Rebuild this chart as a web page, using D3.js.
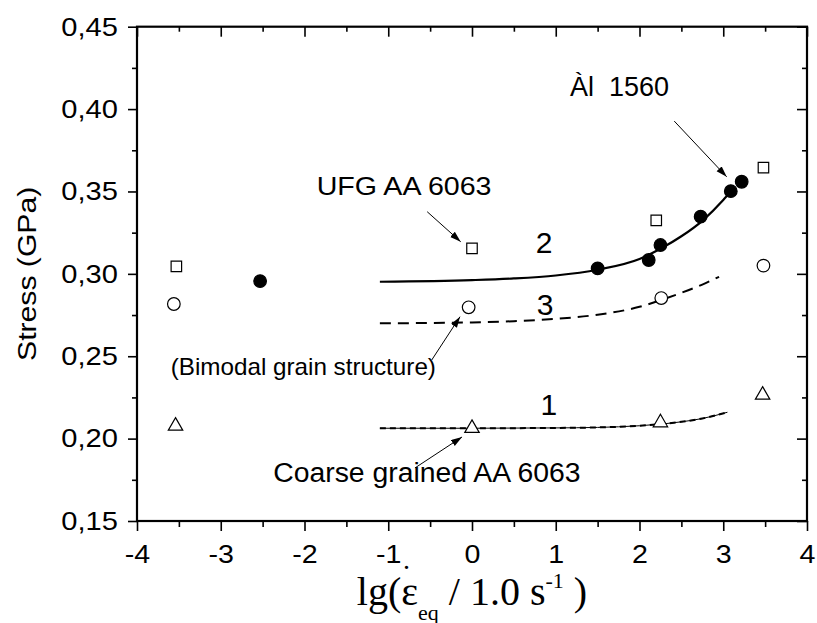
<!DOCTYPE html>
<meta charset="utf-8">
<style>
  body { margin: 0; background: #fff; }
  text { font-family: "Liberation Sans", Arial, sans-serif; fill: #000; }
</style>
<div id="chart"></div>
<script src="https://d3js.org/d3.v7.min.js"></script>
<script>

// measured points (lg strain rate, stress in GPa)
var ufgX = [-3.53, 0.0, 2.2, 3.48]
var ufgY = [0.3045, 0.3155, 0.3325, 0.3645]
var alX = [-2.53, 1.5, 2.11, 2.25, 2.73, 3.09, 3.22]
var alY = [0.2956, 0.3033, 0.3084, 0.3175, 0.3347, 0.3502, 0.3559]
var bimodalX = [-3.56, -0.04, 2.26, 3.48]
var bimodalY = [0.2817, 0.2797, 0.2853, 0.305]
var coarseX = [-3.54, 0.0, 2.25, 3.47]
var coarseY = [0.2077, 0.2063, 0.2097, 0.2265]

// model curves 1, 2, 3
var fit1X = [-1.1, 0, 1.0, 1.5, 2.0, 2.25, 2.5, 2.75, 3.05]
var fit1Y = [0.2063, 0.2063, 0.2065, 0.2068, 0.2078, 0.2088, 0.2102, 0.2122, 0.2160]
var fit2X = [-1.1, 0, 0.5, 1.0, 1.5, 2.0, 2.25, 2.5, 2.75, 3.0, 3.08]
var fit2Y = [0.2952, 0.2962, 0.2972, 0.2990, 0.3025, 0.3090, 0.3152, 0.3228, 0.3322, 0.3448, 0.3495]
var fit3X = [-1.1, 0, 0.5, 1.0, 1.5, 2.0, 2.25, 2.5, 2.75, 2.95]
var fit3Y = [0.2700, 0.2705, 0.2713, 0.2727, 0.2752, 0.2800, 0.2840, 0.2885, 0.2935, 0.2982]

var xTicks = [-4, -3, -2, -1, 0, 1, 2, 3, 4]
var yTicks = [0.15, 0.20, 0.25, 0.30, 0.35, 0.40, 0.45]

var width = 817
    height = 623
    margin = {top: 26.7, right: 10, bottom: 102, left: 137}

var svg = d3.select("#chart")
  .append("svg")
    .attr("width", width)
    .attr("height", height)

var x = d3.scaleLinear().domain([-4, 4]).range([margin.left, width - margin.right])
var y = d3.scaleLinear().domain([0.15, 0.45]).range([height - margin.bottom, margin.top])

var zip = function(xs, ys) { return xs.map(function(v, i) { return [v, ys[i]] }) }

svg.append("defs").append("marker")
    .attr("id", "head")
    .attr("markerUnits", "userSpaceOnUse")
    .attr("markerWidth", 12).attr("markerHeight", 8)
    .attr("refX", 11).attr("refY", 3.5)
    .attr("orient", "auto")
  .append("path")
    .attr("d", "M0,0 L11,3.5 L0,7 z")
    .attr("fill", "#000")

// axes: left/bottom ticks outside, top/right ticks inside
var fmtY = function(d) { return d3.format(".2f")(d).replace(".", ",") }
var fmtX = function(d) { return String(d) }
var xMinor = d3.range(-3.5, 4, 1)
var yMinor = d3.range(0.175, 0.45, 0.05)

function drawAxis(axis, tr) {
  var g = svg.append("g").attr("transform", tr).call(axis)
  g.selectAll(".tick line").attr("stroke-width", 1.6)
  g.select(".domain").remove()
  return g
}

var bottom = drawAxis(d3.axisBottom(x).tickValues(xTicks).tickSize(10).tickPadding(4).tickFormat(fmtX),
  "translate(0," + y(0.15) + ")")
drawAxis(d3.axisBottom(x).tickValues(xMinor).tickSize(6).tickFormat(""), "translate(0," + y(0.15) + ")")
var left = drawAxis(d3.axisLeft(y).tickValues(yTicks).tickSize(9).tickPadding(4).tickFormat(fmtY),
  "translate(" + x(-4) + ",0)")
drawAxis(d3.axisLeft(y).tickValues(yMinor).tickSize(5).tickFormat(""), "translate(" + x(-4) + ",0)")
drawAxis(d3.axisBottom(x).tickValues(xTicks).tickSize(10).tickFormat(""), "translate(0," + y(0.45) + ")")
drawAxis(d3.axisBottom(x).tickValues(xMinor).tickSize(5).tickFormat(""), "translate(0," + y(0.45) + ")")
drawAxis(d3.axisLeft(y).tickValues(yTicks).tickSize(10).tickFormat(""), "translate(" + x(4) + ",0)")
drawAxis(d3.axisLeft(y).tickValues(yMinor).tickSize(5).tickFormat(""), "translate(" + x(4) + ",0)")
svg.append("rect")
  .attr("x", x(-4)).attr("y", y(0.45))
  .attr("width", x(4) - x(-4)).attr("height", y(0.15) - y(0.45))
  .attr("fill", "none").attr("stroke", "#000").attr("stroke-width", 2.2)

bottom.selectAll(".tick text")
  .attr("font-size", 26).attr("font-family", "Liberation Sans, Arial")
  .attr("y", 0).attr("dy", 0)
  .attr("transform", "translate(0,42) scale(1.1,1)")
left.selectAll(".tick text")
  .attr("font-size", 26).attr("font-family", "Liberation Sans, Arial")
  .attr("transform", "translate(-19,0) scale(1.12,1)").attr("x", 0).attr("text-anchor", "end")

// fitted curves
var line = d3.line().x(function(d) { return x(d[0]) }).y(function(d) { return y(d[1]) }).curve(d3.curveMonotoneX)

svg.append("path").attr("d", line(zip(fit2X, fit2Y)))
  .attr("fill", "none").attr("stroke", "#000").attr("stroke-width", 2.2)
svg.append("path").attr("d", line(zip(fit3X, fit3Y)))
  .attr("fill", "none").attr("stroke", "#000").attr("stroke-width", 2).attr("stroke-dasharray", "11,7")
svg.append("path").attr("d", line(zip(fit1X, fit1Y)))
  .attr("fill", "none").attr("stroke", "#000").attr("stroke-width", 1)
svg.append("path").attr("d", line(zip(fit1X, fit1Y)))
  .attr("fill", "none").attr("stroke", "#000").attr("stroke-width", 2).attr("stroke-dasharray", "6,4")

// markers
function drawPoints(xs, ys, type, size, fill) {
  svg.append("g").selectAll("path")
    .data(zip(xs, ys))
    .enter()
    .append("path")
      .attr("transform", function(d) { return "translate(" + x(d[0]) + "," + y(d[1]) + ")" })
      .attr("d", d3.symbol().type(type).size(size))
      .attr("fill", fill)
      .attr("stroke", "#000")
      .attr("stroke-width", 1.2)
}
drawPoints(ufgX, ufgY, d3.symbolSquare, 110, "#fff")
drawPoints(bimodalX, bimodalY, d3.symbolCircle, 125, "#fff")
drawPoints(coarseX, coarseY, d3.symbolTriangle, 90, "#fff")
drawPoints(alX, alY, d3.symbolCircle, 125, "#000")

// annotations
function arrow(x1, y1, x2, y2) {
  svg.append("line")
    .attr("x1", x(x1)).attr("y1", y(y1)).attr("x2", x(x2)).attr("y2", y(y2))
    .attr("stroke", "#000").attr("stroke-width", 1)
    .attr("marker-end", "url(#head)")
}
function label(t, vx, vy, size, sx, anchor) {
  svg.append("text")
    .attr("transform", "translate(" + x(vx) + "," + y(vy) + ") scale(" + sx + ",1)")
    .attr("font-size", size)
    .attr("text-anchor", anchor || "start")
    .style("white-space", "pre")
    .text(t)
}
arrow(-0.535, 0.3377, -0.135, 0.3195)
arrow(2.415, 0.3927, 3.041, 0.3589)
arrow(-0.481, 0.2477, -0.143, 0.274)
arrow(-0.681, 0.1822, -0.119, 0.2010)

label("UFG AA 6063", -1.855, 0.3478, 26, 1.1)
label("\u00C0l  1560", 1.17, 0.4079, 27, 1.0)
label("(Bimodal grain structure)", -3.598, 0.2386, 24, 1.01)
label("Coarse grained AA 6063", -2.373, 0.1738, 27, 1.05)
label("2", 0.86, 0.3126, 30, 1.0, "middle")
label("3", 0.872, 0.275, 30, 1.0, "middle")
label("1", 0.919, 0.2143, 30, 1.0, "middle")

// axis titles
svg.append("text")
  .attr("transform", "translate(36," + y(0.30) + ") rotate(-90) scale(1.16,1)")
  .attr("text-anchor", "middle")
  .attr("font-size", 26)
  .text("Stress (GPa)")

var xt = svg.append("text")
  .attr("transform", "translate(" + x(0) + ",605) scale(1.0,1)")
  .attr("text-anchor", "middle")
  .style("font-family", "Liberation Serif, Times New Roman, serif")
  .attr("font-size", 40)
xt.append("tspan").text("lg(\u03B5")
xt.append("tspan").attr("font-size", 22).attr("dy", 15).text("eq")
xt.append("tspan").attr("dy", -15).text(" / 1.0 s")
xt.append("tspan").attr("font-size", 22).attr("dy", -17).text("-1")
xt.append("tspan").attr("dy", 17).text(" )")
svg.append("text")
  .attr("x", 403).attr("y", 569)
  .style("font-family", "Liberation Serif, Times New Roman, serif")
  .attr("font-size", 28)
  .text(".")

</script>
